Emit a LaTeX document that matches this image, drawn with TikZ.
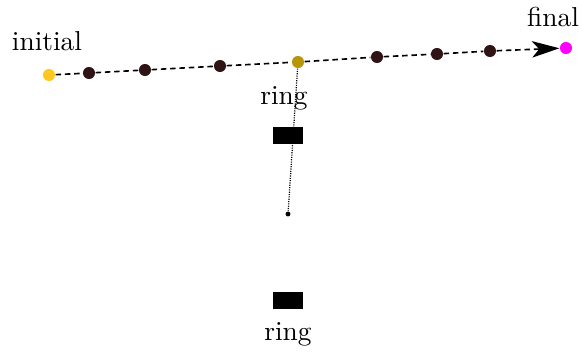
\documentclass[tikz,border=0pt]{standalone}
\usetikzlibrary{arrows.meta,backgrounds}
\definecolor{cinit}{HTML}{FFC81E}
\definecolor{cring}{HTML}{B8960A}
\definecolor{cdot}{HTML}{2E1414}
\definecolor{cfin}{HTML}{FF00FF}
\begin{document}
\begin{tikzpicture}[x=0.365pt,y=-0.365pt,
  dotnode/.style={circle,fill=cdot,inner sep=0pt,minimum size=4.4pt},
  ringbox/.style={rectangle,fill=black,inner sep=0pt,minimum width=10.6pt,minimum height=6.2pt},
  path/.style={dash pattern=on 2pt off 1.4pt,line width=0.6pt},
  lbl/.style={inner sep=0pt}]
\useasboundingbox (0,0) rectangle (582,351);
\node[dotnode,fill=cinit] (init) at (49,75) {};
\node[dotnode] (d1) at (89,73) {};
\node[dotnode] (d2) at (145,70) {};
\node[dotnode] (d3) at (220,66) {};
\node[dotnode,fill=cring] (rd) at (298,62) {};
\node[dotnode] (d4) at (377,57) {};
\node[dotnode] (d5) at (437,54) {};
\node[dotnode] (d6) at (490,51) {};
\node[dotnode,fill=cfin] (fin) at (566,48) {};
\node[lbl] (linit) at (47,41) {initial};
\node[lbl] (lfin) at (553,17) {final};
\node[lbl] (lring1) at (284,98) {ring};
\node[ringbox] (box1) at (288,135) {};
\node[circle,fill=black,inner sep=0pt,minimum size=1.8pt] (end) at (288,214) {};
\node[ringbox] (box2) at (288,300) {};
\node[lbl] (lring2) at (288,334) {ring};
\begin{scope}[on background layer]
\draw[dash pattern=on 0.4pt off 0.45pt,line width=0.45pt] (rd) -- (end);
\end{scope}
\draw[path] (init) -- (d1) -- (d2) -- (d3) -- (rd) -- (d4) -- (d5) -- (d6);
\draw[path,-{Stealth[length=10pt,width=6pt,inset=2.6pt]}] (d6) -- (fin);
\end{tikzpicture}
\end{document}
